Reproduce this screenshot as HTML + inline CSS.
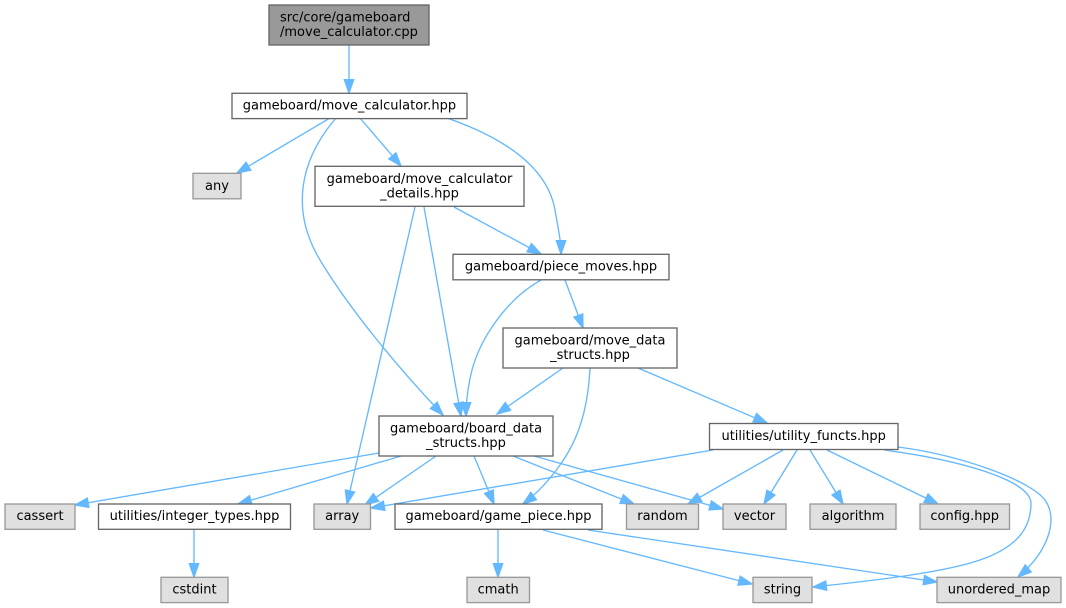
<!DOCTYPE html>
<html>
<head>
<meta charset="utf-8">
<style>
html,body{margin:0;padding:0;background:#fff;}
svg{display:block;}
text{font-family:"DejaVu Sans","Liberation Sans",sans-serif;font-size:13px;fill:#000;}
.n{fill:#fff;stroke:#666;stroke-width:1.33;}
.g{fill:#e0e0e0;stroke:#999;stroke-width:1.33;}
.r{fill:#999;stroke:#666;stroke-width:1.33;}
.e{fill:none;stroke:#63b8ff;stroke-width:1.33;marker-end:url(#a);}
</style>
</head>
<body>
<svg width="1066" height="608" viewBox="0 0 1066 608" xmlns="http://www.w3.org/2000/svg">
<defs>
<marker id="a" markerUnits="userSpaceOnUse" markerWidth="16" markerHeight="12" refX="13.3" refY="4.67" orient="auto" overflow="visible">
<path d="M0,0 L13.3,4.67 L0,9.33 z" fill="#63b8ff" stroke="#63b8ff" stroke-width="1.33"/>
</marker>
</defs>

<!-- edges -->
<path class="e" d="M349,45 L349,93"/>
<path class="e" d="M330,118 L237,173"/>
<path class="e" d="M360,118 L401,166"/>
<path class="e" d="M336,118 C300,160 290,210 320,260 C350,310 400,370 443,415"/>
<path class="e" d="M447,118 C510,140 548,170 555,210 C558,228 561,240 561,254"/>
<path class="e" d="M415,207 L347,504"/>
<path class="e" d="M424,207 L461,416"/>
<path class="e" d="M454,207 L541,254"/>
<path class="e" d="M541,280 C505,300 480,340 472,370 C467,390 466,405 466,416"/>
<path class="e" d="M565,280 L583,328"/>
<path class="e" d="M563,368 L497,414"/>
<path class="e" d="M590,368 C588,410 578,440 560,465 C548,482 535,495 523,504"/>
<path class="e" d="M638,368 L767,423"/>
<path class="e" d="M379,453 L75,505"/>
<path class="e" d="M401,456 L238,504"/>
<path class="e" d="M436,456 L365,505"/>
<path class="e" d="M474,456 L494,504"/>
<path class="e" d="M513,456 L634,504"/>
<path class="e" d="M534,456 L723,509"/>
<path class="e" d="M713,450 L371,508"/>
<path class="e" d="M783,450 L688,504"/>
<path class="e" d="M797,450 L764,504"/>
<path class="e" d="M810,450 L843,504"/>
<path class="e" d="M827,450 L938,504"/>
<path class="e" d="M884,450 C960,460 1030,480 1031,503 C1031,530 1015,548 980,560 C945,572 880,580 813,587"/>
<path class="e" d="M898,447 C960,455 1030,480 1045,500 C1058,518 1050,550 1018,577"/>
<path class="e" d="M498,529 L498,577"/>
<path class="e" d="M543,530 L752,584"/>
<path class="e" d="M588,530 L937,582"/>
<path class="e" d="M194,529 L194,577"/>

<!-- nodes -->
<rect class="r" x="269" y="5" width="160" height="40"/>
<text x="280" y="21.5">src/core/gameboard</text>
<text x="280" y="36">/move_calculator.cpp</text>

<rect class="n" x="232" y="93.3" width="235" height="25.3"/>
<text x="349.5" y="109.5" text-anchor="middle">gameboard/move_calculator.hpp</text>

<rect class="g" x="193" y="173.3" width="48" height="25.5"/>
<text x="217" y="190" text-anchor="middle">any</text>

<rect class="n" x="315" y="166.3" width="209" height="40"/>
<text x="419.5" y="182.8" text-anchor="middle">gameboard/move_calculator</text>
<text x="419.5" y="197.3" text-anchor="middle">_details.hpp</text>

<rect class="n" x="453" y="254.3" width="216" height="25.5"/>
<text x="561" y="270.7" text-anchor="middle">gameboard/piece_moves.hpp</text>

<rect class="n" x="503" y="328" width="174" height="40"/>
<text x="590" y="344.5" text-anchor="middle">gameboard/move_data</text>
<text x="590" y="359" text-anchor="middle">_structs.hpp</text>

<rect class="n" x="379" y="416" width="174" height="40"/>
<text x="466" y="432.5" text-anchor="middle">gameboard/board_data</text>
<text x="466" y="447" text-anchor="middle">_structs.hpp</text>

<rect class="n" x="709.5" y="423.5" width="188.5" height="26"/>
<text x="803.7" y="440" text-anchor="middle">utilities/utility_functs.hpp</text>

<rect class="g" x="5" y="504" width="70" height="25.3"/>
<text x="40" y="520" text-anchor="middle">cassert</text>

<rect class="n" x="98.5" y="504" width="192" height="25.3"/>
<text x="194.5" y="520" text-anchor="middle">utilities/integer_types.hpp</text>

<rect class="g" x="314" y="504" width="56.5" height="25.3"/>
<text x="342.2" y="520" text-anchor="middle">array</text>

<rect class="n" x="395" y="504" width="207" height="25.3"/>
<text x="498.5" y="520" text-anchor="middle">gameboard/game_piece.hpp</text>

<rect class="g" x="626.5" y="504" width="72" height="25.3"/>
<text x="662.5" y="520" text-anchor="middle">random</text>

<rect class="g" x="723" y="504" width="63" height="25.3"/>
<text x="754.5" y="520" text-anchor="middle">vector</text>

<rect class="g" x="810" y="504" width="86" height="25.3"/>
<text x="853" y="520" text-anchor="middle">algorithm</text>

<rect class="g" x="920" y="504" width="89.5" height="25.3"/>
<text x="964.7" y="520" text-anchor="middle">config.hpp</text>

<rect class="g" x="161" y="577.3" width="67" height="25.3"/>
<text x="194.5" y="593.3" text-anchor="middle">cstdint</text>

<rect class="g" x="467" y="577.3" width="62.5" height="25.3"/>
<text x="498.2" y="593.3" text-anchor="middle">cmath</text>

<rect class="g" x="753" y="577.3" width="59" height="25.3"/>
<text x="782.5" y="593.3" text-anchor="middle">string</text>

<rect class="g" x="937" y="577.3" width="124" height="25.3"/>
<text x="999" y="593.3" text-anchor="middle">unordered_map</text>
</svg>
</body>
</html>
